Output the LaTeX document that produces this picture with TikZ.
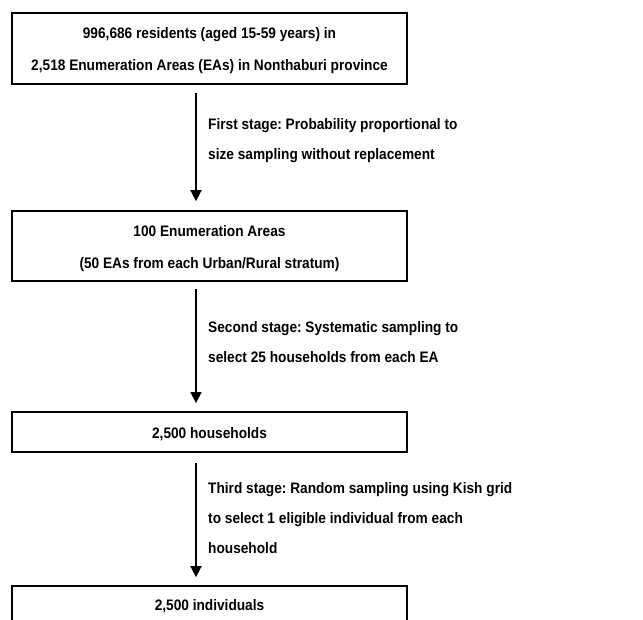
\documentclass[tikz,border=0pt]{standalone}
\usepackage{fontspec}
\setmainfont[FakeStretch=0.9]{Liberation Sans}
\usetikzlibrary{arrows.meta}
\frenchspacing
\begin{document}
\begin{tikzpicture}[x=1pt,y=-1pt,
  every node/.style={font=\fontsize{15.2}{32}\selectfont\bfseries, inner sep=0pt},
  boxnode/.style={draw, line width=1.8pt, minimum width=395pt},
  txt/.style={align=center},
  lbl/.style={anchor=west, align=left, font=\fontsize{15.2}{30}\selectfont\bfseries},
  arr/.style={line width=1.7pt, -{Triangle[length=11pt,width=11pt]}}]
\useasboundingbox (0,0) rectangle (643,619);
\clip (0,0) rectangle (643,619);
\node[boxnode, minimum height=71pt] (b1) at (209.5,48.5) {};
\node[txt] (t1) at (209.5,51) {996,686 residents (aged 15-59 years) in\\2,518 Enumeration Areas (EAs) in Nonthaburi province};
\node[boxnode, minimum height=70pt] (b2) at (209.5,246) {};
\node[txt, font=\fontsize{15.2}{31.3}\selectfont\bfseries] (t2) at (209.5,248.5) {100 Enumeration Areas\\(50 EAs from each Urban/Rural stratum)};
\node[boxnode, minimum height=40pt] (b3) at (209.5,432) {};
\node[txt] (t3) at (209.5,434) {2,500 households};
\node[boxnode, minimum height=44pt] (b4) at (209.5,608) {};
\node[txt] (t4) at (209.5,606) {2,500 individuals};
\coordinate (ax) at (196,0);
\draw[arr, shorten <=8pt, shorten >=9pt] (b1.south -| ax) -- (b2.north -| ax);
\draw[arr, shorten <=7pt, shorten >=8pt] (b2.south -| ax) -- (b3.north -| ax);
\draw[arr, shorten <=10pt, shorten >=8pt] (b3.south -| ax) -- (b4.north -| ax);
\node[lbl] (l1) at (208,140.5) {First stage: Probability proportional to\\size sampling without replacement};
\node[lbl] (l2) at (208,342) {Second stage: Systematic sampling to\\select 25 households from each EA};
\node[lbl] (l3) at (208,518) {Third stage: Random sampling using Kish grid\\to select 1 eligible individual from each\\household};
\end{tikzpicture}
\end{document}
